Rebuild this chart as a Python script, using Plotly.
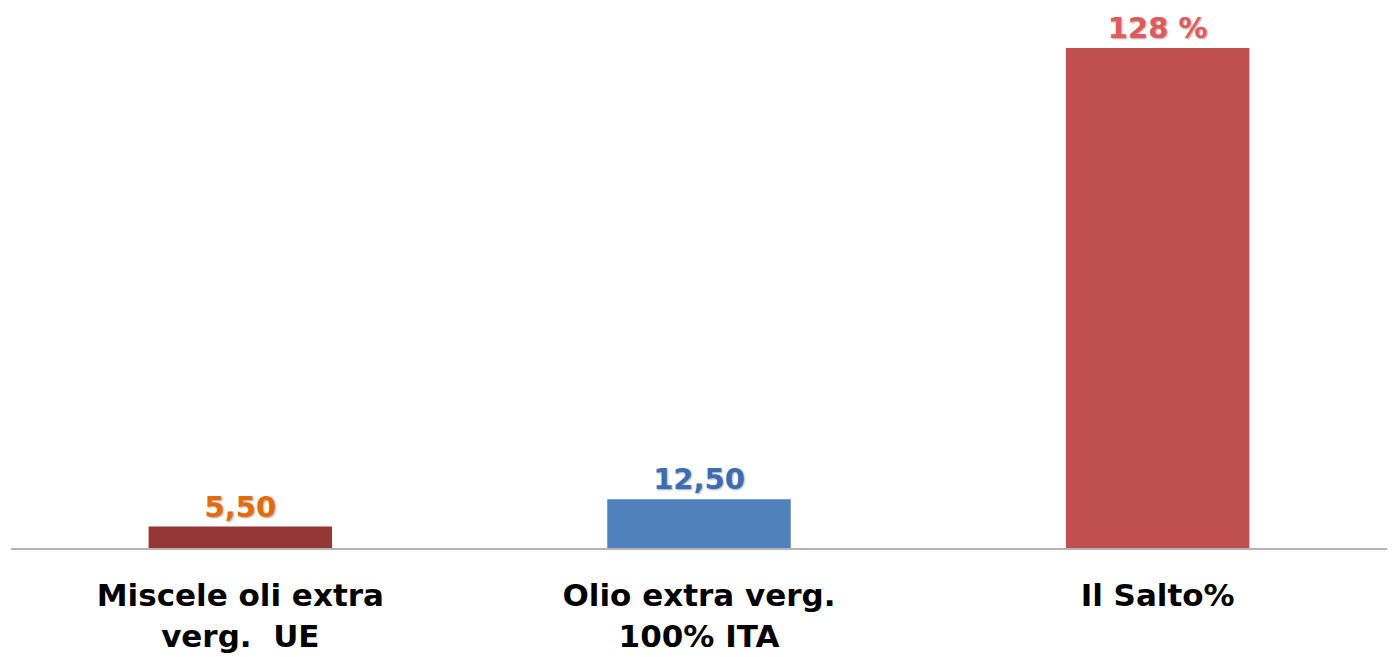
import plotly.graph_objects as go

categories = ["Miscele oli extra<br>verg.  UE", "Olio extra verg.<br>100% ITA", "Il Salto%"]
values = [5.50, 12.50, 128]
value_labels = ["5,50", "12,50", "128 %"]
bar_colors = ["#953735", "#4F81BD", "#C0504D"]
label_colors = ["#E36C09", "#3B6DB5", "#E05A5C"]

fig = go.Figure(
    go.Bar(
        x=categories,
        y=values,
        width=0.4,
        marker=dict(color=bar_colors, line=dict(width=0)),
        text=value_labels,
        textposition="outside",
        cliponaxis=False,
        textfont=dict(family="DejaVu Sans", size=29, weight="bold", color=label_colors,
                      shadow="1px 1px 2px rgba(0,0,0,0.35)"),
        hoverinfo="skip",
    )
)

fig.update_layout(
    width=1387,
    height=649,
    margin=dict(l=3, r=8, t=0, b=109),
    paper_bgcolor="white",
    plot_bgcolor="white",
    showlegend=False,
)
fig.update_xaxes(
    automargin=False,
    showline=True,
    linecolor="#B4B4B4",
    linewidth=2,
    ticks="",
    ticklabelstandoff=19,
    tickfont=dict(family="DejaVu Sans", size=31, weight="bold", color="black"),
)
fig.update_yaxes(
    automargin=False,
    range=[0, 128 * 540 / 500],
    visible=False,
    showgrid=False,
    zeroline=False,
)

fig.write_html("out.html")
